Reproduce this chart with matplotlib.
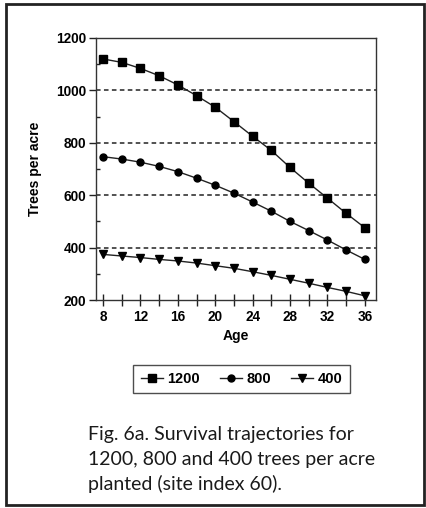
import matplotlib
matplotlib.use("Agg")
import matplotlib.pyplot as plt
from matplotlib.patches import Rectangle
from matplotlib.ticker import MultipleLocator
from matplotlib.font_manager import FontProperties

ages = [8, 10, 12, 14, 16, 18, 20, 22, 24, 26, 28, 30, 32, 34, 36]
tpa_1200 = [1120, 1107, 1084, 1056, 1021, 980, 936, 881, 825, 771, 706, 646, 589, 531, 476]
tpa_800 = [747, 738, 726, 710, 690, 665, 638, 608, 574, 539, 500, 465, 429, 391, 355]
tpa_400 = [374, 368, 362, 355, 349, 341, 331, 321, 308, 294, 279, 264, 248, 233, 216]
series_labels = ["1200", "800", "400"]
x_ticks = [8, 12, 16, 20, 24, 28, 32, 36]
y_ticks = [200, 400, 600, 800, 1000, 1200]
caption = ["Fig. 6a. Survival trajectories for",
           "1200, 800 and 400 trees per acre",
           "planted (site index 60)."]

W, H = 426, 508
fig = plt.figure(figsize=(W / 100, H / 100), dpi=100)
fig.patch.set_facecolor("white")

# outer border
fig.patches.append(Rectangle((6 / W, 1 - 505 / H), (424 - 6) / W, (505 - 4) / H,
                             transform=fig.transFigure, fill=False,
                             edgecolor="#222222", linewidth=2.0))

ax = fig.add_axes([96 / W, 1 - 300 / H, (376 - 96) / W, (300 - 38) / H])
bold = dict(family="Liberation Sans", weight="bold")

ax.plot(ages, tpa_1200, color="#222222", lw=1.0, marker="s", ms=5.6,
        mfc="black", mec="black", label=series_labels[0])
ax.plot(ages, tpa_800, color="#222222", lw=1.0, marker="o", ms=5.0,
        mfc="black", mec="black", label=series_labels[1])
ax.plot(ages, tpa_400, color="#222222", lw=1.0, marker="v", ms=6.0,
        mfc="black", mec="black", label=series_labels[2])

ax.set_xlim(7.25, 37.2)
ax.set_ylim(200, 1200)
ax.set_xticks(x_ticks)
ax.xaxis.set_minor_locator(MultipleLocator(2))
ax.set_yticks(y_ticks)
ax.yaxis.set_minor_locator(MultipleLocator(100))
for t in y_ticks[1:-1]:
    ax.axhline(t, color="#222222", lw=1.1, ls=(0, (3, 2.2)), zorder=0)

ax.tick_params(axis="x", which="both", direction="inout", length=8, width=1.0,
               color="#222222", pad=3)
ax.tick_params(axis="y", which="major", direction="out", length=5, width=1.0,
               color="#222222", pad=2)
ax.tick_params(axis="y", which="minor", direction="in", length=3, width=1.0,
               color="#222222")
for lab in ax.get_xticklabels() + ax.get_yticklabels():
    lab.set_fontproperties(FontProperties(size=9.8, **bold))
for sp in ax.spines.values():
    sp.set_color("#333333")
    sp.set_linewidth(1.0)

ax.set_xlabel("Age", fontsize=10, labelpad=4, **bold)
ax.set_ylabel("Trees per acre", fontsize=10, labelpad=10, **bold)

leg = fig.legend(loc="center", bbox_to_anchor=(241.5 / W, 1 - 379 / H), ncol=3,
                 frameon=True, fancybox=False, edgecolor="#222222",
                 prop=dict(size=10.5, **bold), handlelength=1.5,
                 handletextpad=0.3, columnspacing=1.4, borderpad=0.5)
leg.get_frame().set_linewidth(1.0)

for i, line in enumerate(caption):
    fig.text(88 / W, 1 - (440 + 25 * i) / H, line, fontsize=14,
             family="Lato", va="baseline", ha="left", color="#1a1a1a")

fig.savefig("out.png", dpi=100)
